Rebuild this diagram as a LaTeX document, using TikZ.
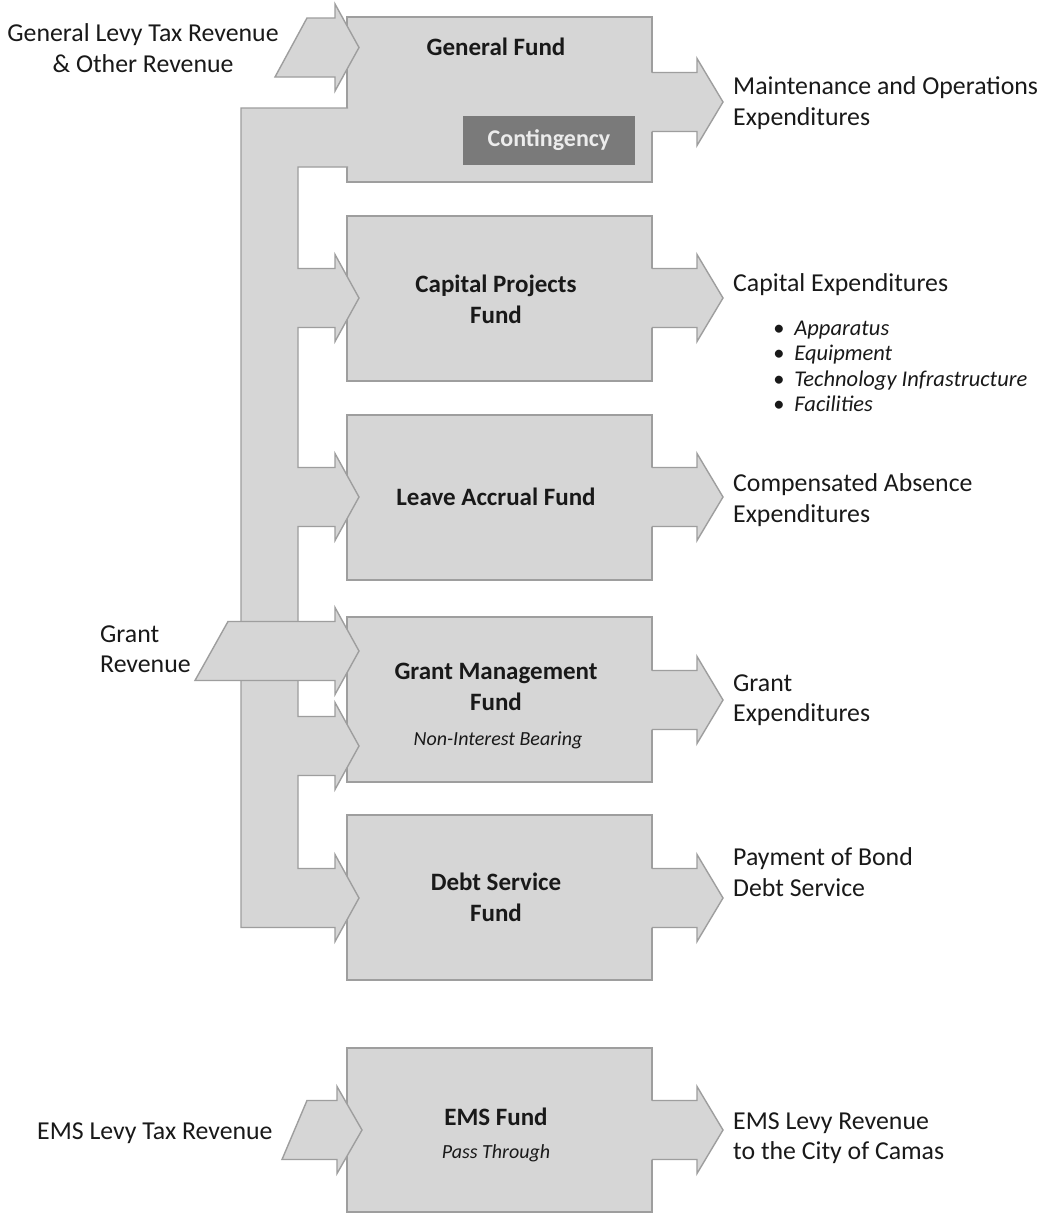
\documentclass[tikz,border=0pt]{standalone}
\usepackage{fontspec}
\setmainfont{Carlito}
\definecolor{fundfill}{RGB}{214,214,214}
\definecolor{fundline}{RGB}{158,158,158}
\definecolor{contfill}{RGB}{122,122,122}
\definecolor{conttext}{RGB}{236,236,236}
\definecolor{ink}{RGB}{25,25,25}
\newcommand{\outblk}[1]{%
  \fill[fundfill] (650,#1-29.5) -- (697,#1-29.5) -- (697,#1-43.5) -- (723,#1) -- (697,#1+43.5) -- (697,#1+29.5) -- (650,#1+29.5) -- cycle;
  \draw[edge] (652,#1-29.5) -- (697,#1-29.5) -- (697,#1-43.5) -- (723,#1) -- (697,#1+43.5) -- (697,#1+29.5) -- (652,#1+29.5);}
% #1 centre y, #2 top-left x of tail, #3 bottom-left x of tail, #4 head start x, #5 tip x
\newcommand{\inblk}[5]{%
  \filldraw[fundfill, edge] (#3,#1+29.5) -- (#2,#1-29.5) -- (#4,#1-29.5) -- (#4,#1-43.5) -- (#5,#1) -- (#4,#1+43.5) -- (#4,#1+29.5) -- cycle;}
\begin{document}
\begin{tikzpicture}[x=1pt,y=-1pt,
  edge/.style={draw=fundline, line width=1.4pt, line join=miter},
  fundbox/.style={fill=fundfill, draw=fundline, line width=1.4pt, minimum width=305pt, minimum height=165pt, inner sep=0pt},
  title/.style={font=\fontsize{25}{31}\selectfont\bfseries, text=ink, align=center, inner sep=0pt},
  subtitle/.style={font=\fontsize{20}{24}\selectfont\itshape, text=ink, inner sep=0pt},
  side/.style={font=\fontsize{25.8}{30.5}\selectfont, text=ink, align=left, anchor=west, inner sep=0pt},
  items/.style={font=\fontsize{22.5}{25.2}\selectfont\itshape, text=ink, align=left, anchor=north west, inner sep=0pt}]
\useasboundingbox (0,0) rectangle (1043,1213);
\fill[white] (0,0) rectangle (1043,1213);

% fund boxes
\node[fundbox] (gf)   at (499.5,99.5)  {};
\node[fundbox] (cap)  at (499.5,298.5) {};
\node[fundbox] (leave) at (499.5,497.5) {};
\node[fundbox] (grant) at (499.5,699.5) {};
\node[fundbox] (debt) at (499.5,897.5) {};
\node[fundbox, minimum height=164pt] (ems) at (499.5,1130) {};

% distribution bus from the General Fund
\fill[fundfill] (352,108) -- (241,108) -- (241,927.5) -- (335,927.5) -- (335,941.5) -- (359,898) -- (335,854.5) -- (335,868.5) -- (298,868.5) -- (298,775.5) -- (335,775.5) -- (335,789.5) -- (359,746) -- (335,702.5) -- (335,716.5) -- (298,716.5) -- (298,526.5) -- (335,526.5) -- (335,540.5) -- (359,497) -- (335,453.5) -- (335,467.5) -- (298,467.5) -- (298,327.5) -- (335,327.5) -- (335,341.5) -- (359,298) -- (335,254.5) -- (335,268.5) -- (298,268.5) -- (298,167) -- (352,167) -- cycle;
\draw[edge] (348,108) -- (241,108) -- (241,927.5) -- (335,927.5) -- (335,941.5) -- (359,898) -- (335,854.5) -- (335,868.5) -- (298,868.5) -- (298,775.5) -- (335,775.5) -- (335,789.5) -- (359,746) -- (335,702.5) -- (335,716.5) -- (298,716.5) -- (298,526.5) -- (335,526.5) -- (335,540.5) -- (359,497) -- (335,453.5) -- (335,467.5) -- (298,467.5) -- (298,327.5) -- (335,327.5) -- (335,341.5) -- (359,298) -- (335,254.5) -- (335,268.5) -- (298,268.5) -- (298,167) -- (348,167);

% incoming revenue arrows
\inblk{47.5}{307}{275}{335}{359}
\inblk{651}{228}{195}{335}{359}
\inblk{1130}{307}{282}{337}{362}

% outgoing expenditure arrows
\outblk{102}
\outblk{298}
\outblk{497}
\outblk{700}
\outblk{898}
\outblk{1130}

% contingency
\node[fill=contfill, minimum width=172pt, minimum height=49pt, inner sep=0pt,
      font=\fontsize{24}{28}\selectfont\bfseries, text=conttext] (cont) at (549,140.5) {Contingency};

% titles
\node[title] (gft) at (496,47) {General Fund};
\node[title] (capt) at (496,299) {Capital Projects\\Fund};
\node[title] (leavet) at (496,497) {Leave Accrual Fund};
\node[title] (grantt) at (496,687) {Grant Management\\Fund};
\node[subtitle] (grants) at (498,740) {Non-Interest Bearing};
\node[title] (debtt) at (496,897) {Debt Service\\Fund};
\node[title] (emst) at (496,1117) {EMS Fund};
\node[subtitle] (emss) at (496,1153) {Pass Through};

% left labels
\node[font=\fontsize{25.8}{30.5}\selectfont, text=ink, align=center, inner sep=0pt] (genrev) at (143,48) {General Levy Tax Revenue\\\& Other Revenue};
\node[side] (grantrev) at (100,649) {Grant\\Revenue};
\node[side] (emsrev) at (37,1133) {EMS Levy Tax Revenue};

% right labels
\node[side] (mo) at (733,103) {Maintenance and Operations\\Expenditures};
\node[side] (capex) at (733,285) {Capital Expenditures};
\node[items] (capitems) at (773,321) {\textbullet\hspace{10pt}Apparatus\\\textbullet\hspace{10pt}Equipment\\\textbullet\hspace{10pt}Technology Infrastructure\\\textbullet\hspace{10pt}Facilities};
\node[side] (cae) at (733,500) {Compensated Absence\\Expenditures};
\node[side] (ge) at (733,700) {Grant\\Expenditures};
\node[side] (bond) at (733,872) {Payment of Bond\\Debt Service};
\node[side] (emsout) at (733,1138) {EMS Levy Revenue\\to the City of Camas};
\end{tikzpicture}
\end{document}
